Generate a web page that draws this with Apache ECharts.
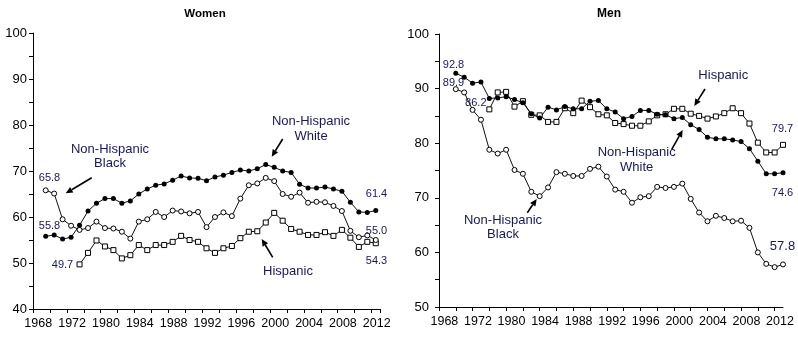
<!DOCTYPE html>
<html><head><meta charset="utf-8">
<script src="https://cdn.jsdelivr.net/npm/echarts@6/dist/echarts.min.js"></script>
<style>html,body{margin:0;padding:0;background:#fff}#c{width:798px;height:341px}</style>
</head><body><div id="c"></div>
<script>
// Data years (category names of the plotted points)
const years = ['1969','1970','1971','1972','1974','1976','1978',
  '1980','1981','1982','1983','1984','1985','1986','1987','1988','1989','1990',
  '1991','1992','1993','1994','1995','1996','1997','1998','1999','2000',
  '2001','2002','2003','2004','2005','2006','2007','2008','2009','2010','2011','2012'];
const firstTickLabel = '1968';
const hispanicYears = years.slice(4);

// Women
const womenWhite = [55.8,56.1,55.2,55.6,58.2,61.3,63.0,64.0,64.0,63.0,
  63.5,65.0,66.1,66.9,67.2,68.0,68.9,68.5,68.4,67.9,
  68.7,69.1,69.7,70.2,70.0,70.5,71.4,70.8,70.0,69.7,
  67.1,66.3,66.3,66.5,66.1,65.6,63.2,61.1,61.0,61.4];
const womenBlack = [65.8,65.1,59.5,58.1,57.2,57.6,59.0,57.6,57.5,56.8,
  55.3,59.0,59.5,61.1,60.0,61.4,61.2,60.8,61.1,57.8,
  60.0,61.0,60.2,64.0,66.9,67.3,68.5,67.8,65.0,64.4,
  65.3,63.1,63.3,63.2,62.4,61.3,57.0,55.6,56.0,55.0];
const womenHispanic = [49.7,52.2,54.9,53.6,52.8,51.0,51.7,53.9,52.8,53.9,
  53.9,54.6,55.9,55.0,54.6,53.2,52.2,53.2,53.7,55.4,
  56.8,56.9,58.8,60.9,59.2,57.4,56.8,56.1,56.1,56.7,
  55.9,57.2,55.5,53.5,54.6,54.3];

// Men
const menWhite = [92.8,92.1,91.0,91.2,88.2,88.3,88.5,88.0,87.4,85.4,
  84.6,86.6,86.1,86.7,86.3,86.3,87.7,87.8,86.3,85.7,
  84.5,84.9,86.0,86.0,85.3,85.2,84.5,84.7,83.4,82.5,
  81.1,80.8,80.8,80.6,80.3,79.0,76.7,74.4,74.4,74.6];
const menBlack = [89.9,89.3,86.1,84.3,78.8,78.1,78.8,75.1,74.4,71.1,
  70.3,71.9,74.7,74.4,74.0,74.0,75.3,75.7,73.9,71.5,
  71.1,69.1,70.1,70.3,72.0,71.8,72.0,72.6,69.8,67.3,
  65.7,66.7,66.3,65.7,65.8,64.5,60.0,57.9,57.3,57.8];
const menHispanic = [86.2,89.3,89.4,86.7,87.7,85.2,85.1,83.9,83.9,86.4,
  85.5,87.8,86.6,85.3,85.1,83.7,83.5,83.2,83.2,84.0,
  85.1,85.3,86.3,86.3,85.4,85.0,84.5,84.9,85.5,86.4,
  85.5,83.6,80.1,78.3,78.3,79.7];

const FONT = '"Liberation Sans", Arial, Helvetica, sans-serif';
const TXT = '#17175a';

function pairs(ys, vals){ return vals.map((v,i)=>[ys[i], v]); }

function xAxisCfg(grid, data, boundaryGap, labelFn, pad){
  return {type:'category', gridIndex:grid, data:data, boundaryGap:boundaryGap,
    axisLine:{lineStyle:{color:'#000', width:1}},
    axisTick:{show:true, interval:1, length:4, lineStyle:{color:'#000'}},
    axisLabel:{interval:labelFn, color:'#000', fontSize:12.5, fontFamily:FONT, margin:8, padding:pad},
    splitLine:{show:false}};
}
function yAxisCfg(grid, min, max, margin){
  return {type:'value', gridIndex:grid, min:min, max:max, interval:5,
    axisLine:{show:true, lineStyle:{color:'#000', width:1}},
    axisTick:{show:true, length:4, lineStyle:{color:'#000'}},
    splitLine:{show:false},
    axisLabel:{formatter:v => (v % 10 === 0 ? String(v) : ''), color:'#000', fontSize:13, fontFamily:FONT, margin:margin}};
}
function lineSeries(idx, data, kind){
  const s = {type:'line', xAxisIndex:idx, yAxisIndex:idx, data:data, showAllSymbol:true,
    lineStyle:{color:'#111', width:1}, emphasis:{disabled:true}, animation:false, z:2};
  if (kind === 'filled'){ s.symbol='circle'; s.symbolSize=5; s.itemStyle={color:'#000'}; }
  else if (kind === 'open'){ s.symbol='circle'; s.symbolSize=5; s.itemStyle={color:'#fff', borderColor:'#000', borderWidth:1}; }
  else { s.symbol='rect'; s.symbolSize=5; s.itemStyle={color:'#fff', borderColor:'#000', borderWidth:1}; }
  return s;
}

function txt(x, y, text, size, opts){
  opts = opts || {};
  return {type:'text', x:x, y:y, z:10, style:{text:text, fill:opts.fill || TXT,
    font:(opts.bold ? 'bold ' : '') + size + 'px ' + FONT,
    align:'center', verticalAlign:'middle', textAlign:'center', textVerticalAlign:'middle',
    lineHeight: opts.lh || size + 2}};
}
function arrow(x1,y1,x2,y2){
  const dx=x2-x1, dy=y2-y1, L=Math.hypot(dx,dy), ux=dx/L, uy=dy/L;
  const hl=7, hw=3.2, bx=x2-ux*hl, by=y2-uy*hl;
  return [
    {type:'line', z:10, shape:{x1:x1,y1:y1,x2:bx,y2:by}, style:{stroke:'#000', lineWidth:1.6}},
    {type:'polygon', z:10, shape:{points:[[x2,y2],[bx-uy*hw,by+ux*hw],[bx+uy*hw,by-ux*hw]]}, style:{fill:'#000'}}
  ];
}

const graphics = [
  txt(205, 14, 'Women', 11.5, {bold:true, fill:'#000'}),
  txt(609, 14, 'Men', 12, {bold:true, fill:'#000'}),
  // Women annotations
  txt(110, 156.5, 'Non-Hispanic\nBlack', 13, {lh:14}),
  txt(311, 128.5, 'Non-Hispanic\nWhite', 13, {lh:15}),
  txt(288, 271, 'Hispanic', 13),
  txt(49.5, 177.5, '65.8', 11),
  txt(49.5, 226, '55.8', 11),
  txt(62.5, 264.5, '49.7', 11),
  txt(376.5, 193.5, '61.4', 11),
  txt(376.5, 230.5, '55.0', 11),
  txt(376.5, 260.5, '54.3', 11),
  // Men annotations
  txt(503, 227, 'Non-Hispanic\nBlack', 13, {lh:14}),
  txt(723.3, 75.5, 'Hispanic', 13),
  txt(636.7, 160, 'Non-Hispanic\nWhite', 13, {lh:15}),
  txt(453.5, 65, '92.8', 11),
  txt(453.5, 83.3, '89.9', 11),
  txt(475.8, 102.5, '86.2', 11),
  txt(782.5, 128.7, '79.7', 11),
  txt(782.5, 193, '74.6', 11),
  txt(782.5, 246.3, '57.8', 13)
].concat(
  arrow(91.7,177.7,65.7,193.3),
  arrow(282.7,139,271.7,156.7),
  arrow(272.7,257.3,261.7,239),
  arrow(527.3,212.7,536.7,199),
  arrow(705,89,694.3,106),
  arrow(671.7,149.3,682.7,130)
);

const leftCats = [firstTickLabel].concat(years);
const rightCats = ['', firstTickLabel].concat(years);

const option = {
  backgroundColor:'#fff',
  animation:false,
  grid:[
    {left:33, top:33, width:347, height:276},
    {left:439, top:34, width:344, height:273}
  ],
  xAxis:[
    xAxisCfg(0, leftCats, true, (i)=> i % 4 === 0, [0,0,0,2]),
    xAxisCfg(1, rightCats, false, (i)=> i % 4 === 1, [0,6,0,0])
  ],
  yAxis:[ yAxisCfg(0, 40, 100, 6), yAxisCfg(1, 50, 100, 10) ],
  series:[
    lineSeries(0, pairs(hispanicYears, womenHispanic), 'square'),
    lineSeries(0, pairs(years, womenBlack), 'open'),
    lineSeries(0, pairs(years, womenWhite), 'filled'),
    lineSeries(1, pairs(hispanicYears, menHispanic), 'square'),
    lineSeries(1, pairs(years, menBlack), 'open'),
    lineSeries(1, pairs(years, menWhite), 'filled')
  ],
  graphic: graphics
};
const chart = echarts.init(document.getElementById('c'), null, {renderer:'canvas'});
chart.setOption(option);
</script></body></html>
